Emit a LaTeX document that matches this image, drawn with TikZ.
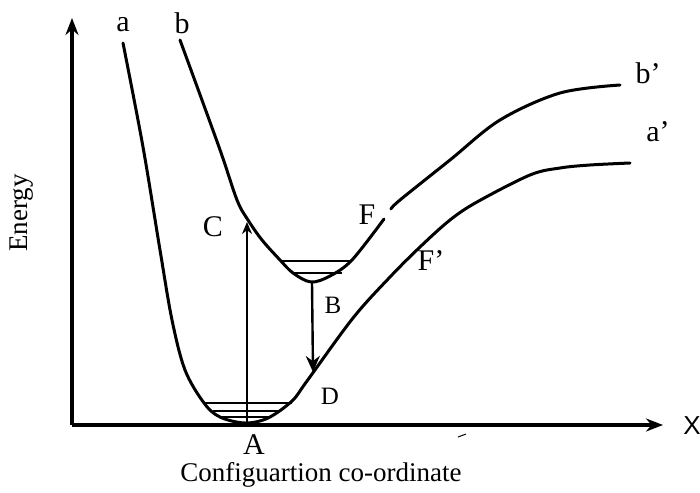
\documentclass[tikz,border=0pt]{standalone}
\usepackage{fontspec}
\setmainfont{Liberation Serif}
\newfontfamily\axisfont{Liberation Sans}
\usetikzlibrary{arrows.meta}
\tikzset{
  curve/.style={line width=1.5pt,line join=round,line cap=round},
  level/.style={line width=1.2pt},
  axis/.style={line width=1.6pt,-{Stealth[length=8.5pt,width=6.5pt]}},
  lab/.style={font=\fontsize{15}{15}\selectfont},
  smalllab/.style={font=\fontsize{12.5}{12.5}\selectfont},
  title/.style={font=\fontsize{13.5}{14}\selectfont},
}

\begin{document}
\begin{tikzpicture}[x=0.5pt,y=-0.5pt]
\useasboundingbox (0,0) rectangle (700,492);
% Axes
\coordinate (origin) at (72,425);
\coordinate (ytop) at (72,18);
\coordinate (xend) at (663,425);
\draw[axis] (origin) -- (ytop);
\draw[axis] (origin) -- (xend);
\node[font=\axisfont\fontsize{13}{13}\selectfont] (xlab) at (692,426) {X};
\node[title,rotate=90] (ylab) at (22,213) {Energy};
\node[title] (xtitle) at (321,475) {Configuartion co-ordinate};
% Lower curve a -- a'
\draw[curve] plot[smooth,tension=0.55] coordinates {
  (123,43) (143,147) (160,250) (172,320) (185,370) (204,403) (220,417)
  (245,423) (268,418) (292,401) (307,381) (353,318) (390,277) (420,247)
  (450,220) (477,202) (530,175) (560,168) (590,165) (630,163)};
% Upper curve b -- b' (broken near F)
\draw[curve] plot[smooth,tension=0.55] coordinates {
  (180,40) (219,147) (237,200) (248,220) (262,240) (280,260) (293,273)
  (311,282) (330,276) (352,260) (384,219)};
\draw[curve] plot[smooth,tension=0.55] coordinates {
  (391,209) (400,200) (450,160) (500,120) (560,93) (620,85)};
% Vibrational levels
\draw[level] (204,403) -- (292,403);
\draw[level] (213,411) -- (281,411);
\draw[level] (220,417) -- (272,417);
\draw[level] (280,261) -- (352,261);
\draw[level] (293,273) -- (342,273);
% Transitions
\coordinate (absLow) at (247,425);
\coordinate (absTop) at (247,222);
\coordinate (emTop) at (312,283);
\coordinate (emLow) at (313,372);
\draw[line width=1.2pt,-{Stealth[length=6pt,width=5pt]}] (absLow) -- (absTop);
\draw[line width=1.2pt,-{Stealth[length=8pt,width=7pt]}] (emTop) -- (emLow);
% Labels
\node[lab] (la) at (123,25) {a};
\node[lab] (lb) at (182,23) {b};
\node[lab] (lbp) at (648,73) {b'};
\node[lab] (lap) at (658,132) {a'};
\node[lab] (lC) at (213,227) {C};
\node[lab] (lF) at (367,215) {F};
\node[lab] (lFp) at (431,261) {F'};
\node[smalllab] (lB) at (333,305) {B};
\node[smalllab] (lD) at (330,396) {D};
\node[lab] (lA) at (254,445) {A};
% stray mark
\draw[line width=0.5pt] (458,437) -- (466,434);
\end{tikzpicture}
\end{document}
